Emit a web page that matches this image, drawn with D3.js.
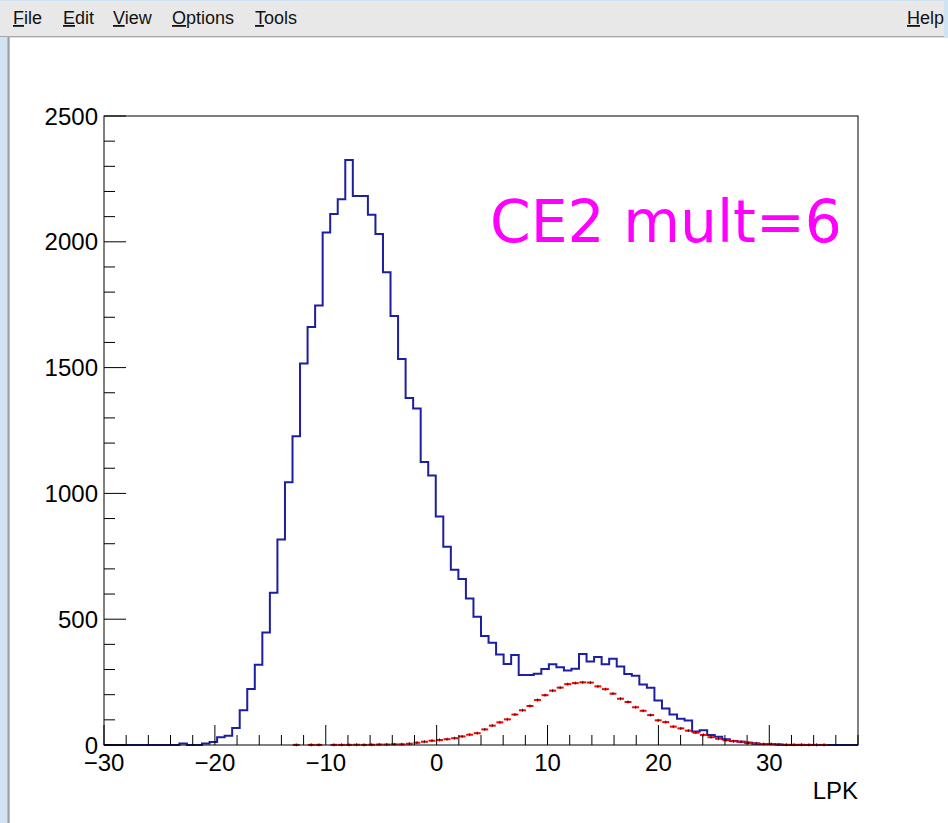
<!DOCTYPE html>
<html>
<head>
<meta charset="utf-8">
<script src="https://cdn.jsdelivr.net/npm/d3@7.9.0/dist/d3.min.js"></script>
<style>
  html, body { margin: 0; padding: 0; background: #cfe3f2; }
  svg { display: block; }
</style>
</head>
<body>
<svg id="canvas" width="948" height="823"></svg>
<script>
// histogram binning (100 bins from -30 to 38)
const nBins = 100;
const xRange = [-30, 38];
const yRange = [0, 2500];

// blue histogram: bin contents, bin 0 .. 99
const blueCounts = [
  0, 0, 0, 0, 0, 0, 0, 0, 0, 0,
  6, 0, 0, 6, 12, 31, 37, 68, 138, 223,
  319, 447, 605, 817, 1044, 1227, 1516, 1661, 1747, 2037,
  2110, 2169, 2325, 2182, 2182, 2108, 2031, 1879, 1705, 1534,
  1379, 1337, 1125, 1071, 908, 788, 697, 660, 582, 510,
  433, 406, 360, 322, 358, 278, 278, 283, 302, 321,
  309, 296, 303, 362, 332, 350, 321, 343, 312, 282,
  275, 240, 228, 177, 145, 121, 104, 97, 54, 59,
  40, 33, 23, 16, 13, 9, 5, 4, 4, 2,
  0, 0, 0, 0, 0, 0, 0, 0, 0, 0
];

// red histogram (drawn with error bars), bin 0 .. 99
const redCounts = [
  0, 0, 0, 0, 0, 0, 0, 0, 0, 0,
  0, 0, 0, 0, 0, 0, 0, 0, 0, 0,
  0, 0, 0, 0, 0, 0.5, 0, 0.5, 0.5, 0,
  0.5, 0.5, 0.5, 1, 0.5, 1, 2, 2, 3, 3,
  5, 9, 13, 17, 20, 23, 27, 34, 41, 47,
  62, 77, 90, 102, 121, 138, 155, 179, 198, 216,
  228, 242, 246, 249, 248, 233, 222, 204, 184, 171,
  150, 136, 119, 98, 91, 73, 66, 57, 49, 40,
  31, 25, 19, 15, 13, 9, 7, 4, 4, 2,
  1, 1, 1, 0.5, 0.5, 0.5, 0, 0, 0, 0
];

const xMajorTicks = [-30, -20, -10, 0, 10, 20, 30];
const yMajorTicks = [0, 500, 1000, 1500, 2000, 2500];
const menuItems = ["File", "Edit", "View", "Options", "Tools"];
const label = "CE2 mult=6";
const xTitle = "LPK";

const svg = d3.select("#canvas");

// window chrome: menu bar and canvas area
svg.append("rect").attr("x", 0).attr("y", 1).attr("width", 944).attr("height", 36).attr("fill", "#e8e8e8");
svg.append("line").attr("x1", 0).attr("x2", 944).attr("y1", 36.5).attr("y2", 36.5).attr("stroke", "#a8a8a8");
svg.append("rect").attr("x", 10).attr("y", 38).attr("width", 938).attr("height", 785).attr("fill", "white");
svg.append("line").attr("x1", 8.5).attr("x2", 8.5).attr("y1", 37).attr("y2", 823).attr("stroke", "#9aa0a6").attr("stroke-width", 2);

const menuX = [13, 63, 113, 172, 255];
menuItems.forEach((m, i) => {
  const t = svg.append("text").attr("x", menuX[i]).attr("y", 24)
    .attr("font-family", "Liberation Sans, Arial, sans-serif").attr("font-size", 18).attr("fill", "#111");
  t.append("tspan").attr("text-decoration", "underline").text(m[0]);
  t.append("tspan").text(m.slice(1));
});
{
  const t = svg.append("text").attr("x", 907).attr("y", 24)
    .attr("font-family", "Liberation Sans, Arial, sans-serif").attr("font-size", 18).attr("fill", "#111");
  t.append("tspan").attr("text-decoration", "underline").text("H");
  t.append("tspan").text("elp");
}

// scales
const x = d3.scaleLinear().domain(xRange).range([104, 858]);
const y = d3.scaleLinear().domain(yRange).range([745, 116]);
const binW = (xRange[1] - xRange[0]) / nBins;
const edge = i => xRange[0] + i * binW;

// blue histogram outline
const bluePts = blueCounts.map((v, i) => [edge(i), v]);
bluePts.push([xRange[1], blueCounts[nBins - 1]]);
const stepLine = d3.line().x(d => x(d[0])).y(d => y(d[1])).curve(d3.curveStepAfter);
svg.append("path")
  .attr("d", stepLine(bluePts))
  .attr("fill", "none")
  .attr("stroke", "#1e1ea0")
  .attr("stroke-width", 2);

// red histogram with error bars
const redBins = redCounts.map((v, i) => ({ i, v })).filter(d => d.v > 0);
const red = svg.append("g");
red.selectAll("line.h").data(redBins).enter().append("line")
  .attr("class", "h")
  .attr("x1", d => x(edge(d.i)) + 0.3)
  .attr("x2", d => x(edge(d.i + 1)) - 0.3)
  .attr("y1", d => y(d.v)).attr("y2", d => y(d.v))
  .attr("stroke", "#ff0000").attr("stroke-width", 2);
red.selectAll("line.e").data(redBins).enter().append("line")
  .attr("class", "e")
  .attr("x1", d => x(edge(d.i) + binW / 2)).attr("x2", d => x(edge(d.i) + binW / 2))
  .attr("y1", d => y(d.v) - 1.5).attr("y2", d => y(d.v) + 1.5)
  .attr("stroke", "#000").attr("stroke-width", 0.8);

// frame
svg.append("rect").attr("x", 104).attr("y", 116).attr("width", 754).attr("height", 629)
  .attr("fill", "none").attr("stroke", "#000").attr("stroke-width", 1);

const fmt = v => (v < 0 ? "\u2212" + Math.abs(v) : String(v));
const axisFont = "Liberation Sans, Arial, Helvetica, sans-serif";

// x axis ticks (drawn upward, inside the frame)
const xMinor = d3.range(xRange[0], xRange[1] + 0.001, 2).filter(v => v % 10 !== 0);
svg.append("g").selectAll("line").data(xMinor).enter().append("line")
  .attr("x1", d => x(d)).attr("x2", d => x(d)).attr("y1", 745).attr("y2", 735)
  .attr("stroke", "#000");
svg.append("g").selectAll("line").data(xMajorTicks).enter().append("line")
  .attr("x1", d => x(d)).attr("x2", d => x(d)).attr("y1", 745).attr("y2", 725)
  .attr("stroke", "#000");
svg.append("g").selectAll("text").data(xMajorTicks).enter().append("text")
  .attr("x", d => x(d)).attr("y", 771)
  .attr("text-anchor", "middle")
  .attr("font-family", axisFont).attr("font-size", 24)
  .text(fmt);

// y axis ticks
const yMinor = d3.range(yRange[0], yRange[1] + 1, 100).filter(v => v % 500 !== 0);
svg.append("g").selectAll("line").data(yMinor).enter().append("line")
  .attr("x1", 104).attr("x2", 115).attr("y1", d => y(d)).attr("y2", d => y(d))
  .attr("stroke", "#000");
svg.append("g").selectAll("line").data(yMajorTicks).enter().append("line")
  .attr("x1", 104).attr("x2", 126).attr("y1", d => y(d)).attr("y2", d => y(d))
  .attr("stroke", "#000");
svg.append("g").selectAll("text").data(yMajorTicks).enter().append("text")
  .attr("x", 98).attr("y", d => y(d) + 8.5)
  .attr("text-anchor", "end")
  .attr("font-family", axisFont).attr("font-size", 24)
  .text(fmt);

// x title
svg.append("text").attr("x", 858).attr("y", 799).attr("text-anchor", "end")
  .attr("font-family", axisFont).attr("font-size", 24).text(xTitle);

// magenta label, fitted to its width in the picture
const lab = svg.append("text").attr("x", 490).attr("y", 242)
  .attr("font-family", "DejaVu Sans, sans-serif").attr("font-size", 60)
  .attr("fill", "#ff00ff").text(label);
const w = lab.node().getComputedTextLength();
lab.attr("font-size", 60 * 352 / w);
</script>
</body>
</html>
